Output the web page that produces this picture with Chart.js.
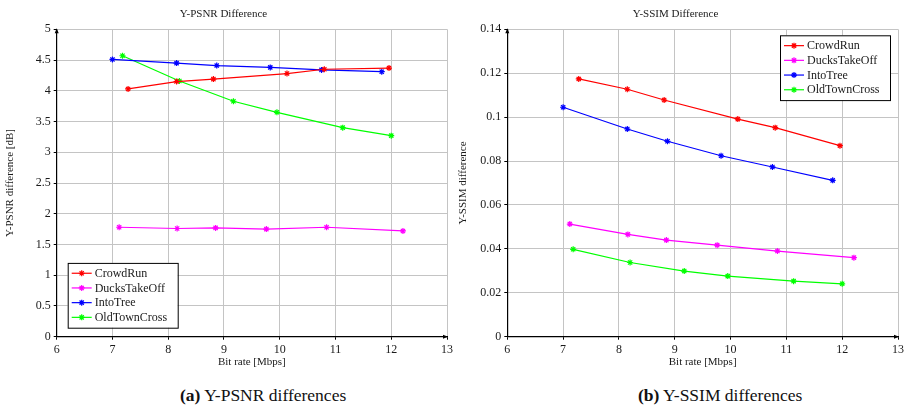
<!DOCTYPE html>
<html lang="en">
<head>
  <meta charset="UTF-8" />
  <title>Y-PSNR / Y-SSIM Difference</title>
  <script src="https://cdn.jsdelivr.net/npm/chart.js"></script>
  <style>
    body {
      margin: 0;
      background: #fff;
      font-family: 'Liberation Serif', serif;
    }
    .panel { position: absolute; top: 0; }
    #left { left: 0; }
    #right { left: 453px; }
    .caption {
      position: absolute;
      top: 385px;
      font-size: 17.5px;
      line-height: 20px;
      color: #111;
      white-space: nowrap;
    }
  </style>
</head>
<body>
  <div class="panel" id="left"><canvas id="psnrChart" width="460" height="372"></canvas></div>
  <div class="panel" id="right"><canvas id="ssimChart" width="454" height="372"></canvas></div>
  <div class="caption" style="left:180px"><b>(a)</b> Y-PSNR differences</div>
  <div class="caption" style="left:638px"><b>(b)</b> Y-SSIM differences</div>

  <script>
    const sequences = ['CrowdRun', 'DucksTakeOff', 'IntoTree', 'OldTownCross'];
    const colors = ['#ff0000', '#ff00ff', '#0000ff', '#00ff00'];

    // bit rates [Mbps] per sequence
    const rateCrowdRun = [7.28, 8.15, 8.81, 10.13, 10.80, 11.96];
    const rateDucks = [7.12, 8.16, 8.85, 9.76, 10.84, 12.21];
    const rateIntoTree = [7.00, 8.15, 8.87, 9.83, 10.75, 11.83];
    const rateOldTown = [7.18, 8.20, 9.17, 9.95, 11.13, 12.00];

    // Y-PSNR difference [dB]
    const psnrCrowdRun = [4.03, 4.15, 4.19, 4.28, 4.35, 4.37];
    const psnrDucks = [1.78, 1.76, 1.77, 1.75, 1.78, 1.72];
    const psnrIntoTree = [4.51, 4.45, 4.41, 4.38, 4.34, 4.31];
    const psnrOldTown = [4.57, 4.16, 3.83, 3.65, 3.40, 3.27];

    // Y-SSIM difference
    const ssimCrowdRun = [0.1174, 0.1127, 0.1078, 0.0991, 0.0952, 0.0870];
    const ssimDucks = [0.0513, 0.0466, 0.0440, 0.0417, 0.0390, 0.0360];
    const ssimIntoTree = [0.1045, 0.0946, 0.0890, 0.0824, 0.0773, 0.0712];
    const ssimOldTown = [0.0398, 0.0338, 0.0299, 0.0276, 0.0253, 0.0241];

    const rates = [rateCrowdRun, rateDucks, rateIntoTree, rateOldTown];

    const serif = "'Liberation Serif', serif";
    const inkColor = '#1a1a1a';
    const gridColor = '#c4c4c4';

    // plain number labels: 4 instead of 4.0, 0.1 instead of 0.10
    const plainLabel = v => String(Number(v.toFixed(4)));

    function makeDatasets(values) {
      return sequences.map((name, i) => ({
        label: name,
        data: rates[i].map((x, j) => ({ x: x, y: values[i][j] })),
        borderColor: colors[i],
        backgroundColor: colors[i],
        borderWidth: 1.2,
        pointStyle: 'star',
        pointRadius: 3,
        pointBorderWidth: 1.2,
        tension: 0
      }));
    }

    // axis arrows on the left and bottom edges
    const axisArrows = {
      id: 'axisArrows',
      afterDraw(chart) {
        const { ctx, chartArea: a } = chart;
        ctx.save();
        ctx.fillStyle = '#000';
        ctx.beginPath();
        ctx.moveTo(a.left, a.top - 1);
        ctx.lineTo(a.left - 2, a.top + 4);
        ctx.lineTo(a.left + 2, a.top + 4);
        ctx.closePath();
        ctx.fill();
        ctx.beginPath();
        ctx.moveTo(a.right + 1, a.bottom);
        ctx.lineTo(a.right - 4, a.bottom - 2);
        ctx.lineTo(a.right - 4, a.bottom + 2);
        ctx.closePath();
        ctx.fill();
        ctx.restore();
      }
    };

    // boxed legend drawn inside the plot area
    const boxLegend = {
      id: 'boxLegend',
      afterDraw(chart, args, opts) {
        const { ctx, chartArea: a } = chart;
        const sets = chart.data.datasets;
        const w = 110, rowH = 14.7, h = sets.length * rowH + 6;
        let x, y;
        if (opts.corner === 'topright') {
          x = a.right - opts.dx - w;
          y = a.top + opts.dy;
        } else {
          x = a.left + opts.dx;
          y = a.bottom - opts.dy - h;
        }
        ctx.save();
        ctx.fillStyle = '#fff';
        ctx.fillRect(x, y, w, h);
        ctx.strokeStyle = '#000';
        ctx.lineWidth = 1;
        ctx.strokeRect(x + 0.5, y + 0.5, w, h);
        ctx.font = '12px ' + serif;
        ctx.textBaseline = 'middle';
        sets.forEach((ds, i) => {
          const cy = y + 3 + rowH * (i + 0.5);
          ctx.strokeStyle = ds.borderColor;
          ctx.lineWidth = 1.2;
          ctx.beginPath();
          ctx.moveTo(x + 4, cy);
          ctx.lineTo(x + 24, cy);
          ctx.stroke();
          ctx.beginPath();
          for (let k = 0; k < 4; k++) {
            const ang = k * Math.PI / 4;
            ctx.moveTo(x + 14 - 3 * Math.cos(ang), cy - 3 * Math.sin(ang));
            ctx.lineTo(x + 14 + 3 * Math.cos(ang), cy + 3 * Math.sin(ang));
          }
          ctx.stroke();
          ctx.fillStyle = inkColor;
          ctx.fillText(ds.label, x + 27, cy + 0.5);
        });
        ctx.restore();
      }
    };

    function makeChart(id, title, yTitle, values, yMax, yStep, yWidth, padRight, legendOpts) {
      return new Chart(document.getElementById(id), {
        type: 'line',
        data: { datasets: makeDatasets(values) },
        plugins: [axisArrows, boxLegend],
        options: {
          responsive: false,
          animation: false,
          layout: { padding: { left: 0, right: padRight, top: 0, bottom: 0 } },
          plugins: {
            legend: { display: false },
            tooltip: { enabled: false },
            title: {
              display: true,
              text: title,
              color: inkColor,
              font: { family: serif, size: 11, weight: 'normal' },
              padding: { top: 7.5, bottom: 8.6 }
            },
            boxLegend: legendOpts
          },
          scales: {
            x: {
              type: 'linear',
              min: 6,
              max: 13,
              offset: false,
              afterFit(scale) { scale.height = 35.3; },
              ticks: { stepSize: 1, color: inkColor, padding: 3, font: { family: serif, size: 12 }, callback: plainLabel },
              grid: { color: gridColor, lineWidth: 1, tickLength: 3, tickColor: '#000' },
              border: { color: '#000', width: 1.2 },
              title: {
                display: true,
                text: 'Bit rate [Mbps]',
                color: inkColor,
                font: { family: serif, size: 11 },
                padding: { top: 0, bottom: 3 }
              }
            },
            y: {
              min: 0,
              max: yMax,
              afterFit(scale) { scale.width = yWidth; },
              ticks: { stepSize: yStep, color: inkColor, padding: 3, font: { family: serif, size: 12 }, callback: plainLabel },
              grid: { color: gridColor, lineWidth: 1, tickLength: 3, tickColor: '#000' },
              border: { color: '#000', width: 1.2 },
              title: {
                display: true,
                text: yTitle,
                color: inkColor,
                font: { family: serif, size: 11 },
                padding: { top: 4, bottom: 0 }
              }
            }
          }
        }
      });
    }

    makeChart('psnrChart', 'Y-PSNR Difference', 'Y-PSNR difference [dB]',
      [psnrCrowdRun, psnrDucks, psnrIntoTree, psnrOldTown], 5, 0.5, 56.7, 13,
      { corner: 'bottomleft', dx: 11, dy: 9 });

    makeChart('ssimChart', 'Y-SSIM Difference', 'Y-SSIM difference',
      [ssimCrowdRun, ssimDucks, ssimIntoTree, ssimOldTown], 0.14, 0.02, 54.3, 9,
      { corner: 'topright', dx: 8, dy: 6 });
  </script>
</body>
</html>
